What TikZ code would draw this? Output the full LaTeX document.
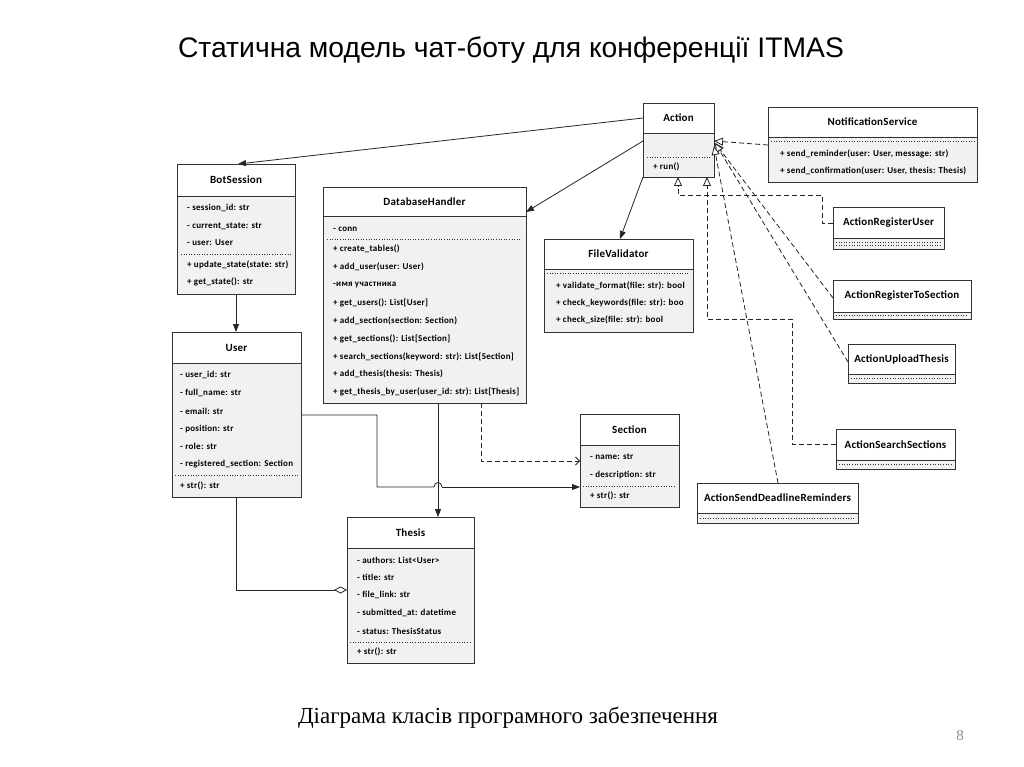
\documentclass[tikz,border=0pt]{standalone}
\usepackage{fontspec}
\usetikzlibrary{arrows.meta,calc}
\newfontfamily\umlfont[LetterSpace=3]{Carlito}
\newfontfamily\hdrfont[LetterSpace=2]{Carlito}
\newfontfamily\titlefont{Liberation Sans}
\newfontfamily\capfont{Liberation Serif}
\definecolor{bodyfill}{HTML}{F1F1F1}
\definecolor{edge}{HTML}{333333}
\tikzset{
  classbox/.style={draw=edge,line width=0.9pt,fill=bodyfill,rectangle,inner sep=0pt,outer sep=0pt},
  hdrbox/.style={draw=edge,line width=0.9pt,fill=white,rectangle,inner sep=0pt,outer sep=0pt,
    font=\hdrfont\bfseries\fontsize{11}{13}\selectfont},
  mem/.style={anchor=west,inner sep=0pt,font=\umlfont\bfseries\fontsize{9}{10}\selectfont},
  sepline/.style={draw=edge,line width=0.6pt,dotted},
  conn/.style={draw=black!85,line width=0.8pt},
  assoc/.style={conn,-{Triangle[length=8pt,width=6pt]}},
  real/.style={conn,dashed,dash pattern=on 5pt off 3pt,-{Triangle[open,length=9pt,width=8pt,fill=white]}},
  dep/.style={conn,dashed,dash pattern=on 5pt off 3pt,-{Straight Barb[length=4pt,width=8pt]}},
  aggr/.style={conn,-{Diamond[open,length=13pt,width=7pt,fill=white]}},
}
\newcommand\umlclass[7]{%
  \node[classbox,minimum width=#4pt,minimum height=#5pt,anchor=north west] (#1) at (#2,#3) {};
  \node[hdrbox,minimum width=#4pt,minimum height=#6pt,anchor=north west] (#1-h) at (#2,#3) {#7};
}
\begin{document}
\begin{tikzpicture}[x=1pt,y=-1pt]
\useasboundingbox (0,0) rectangle (1024,767);
\fill[white] (0,0) rectangle (1024,767);

% title and caption
\node[inner sep=0pt,font=\titlefont\fontsize{28.3}{32}\selectfont] (title) at (511,50) {Статична модель чат-боту для конференції ITMAS};
\node[inner sep=0pt,font=\capfont\fontsize{23}{27}\selectfont] (caption) at (508,718) {Діаграма класів програмного забезпечення};
\node[inner sep=0pt,font=\capfont\fontsize{15}{18}\selectfont,text=black!45] (pagenum) at (960,736) {8};

% Action
\umlclass{action}{643}{103}{71}{74}{30}{Action}
\draw[sepline] (647,157) -- (710,157);
\node[mem] (action-m1) at (653,167) {+ run()};

% NotificationService
\umlclass{ns}{768}{107}{209}{75}{30}{NotificationService}
\draw[sepline] (771,141) -- (974,141);
\node[mem] (ns-m1) at (780,154) {+ send\_reminder(user: User, message: str)};
\node[mem] (ns-m2) at (780,171) {+ send\_confirmation(user: User, thesis: Thesis)};

% BotSession
\umlclass{bot}{177}{164}{118}{130}{32}{BotSession}
\node[mem] (bot-m1) at (187,208) {- session\_id: str};
\node[mem] (bot-m2) at (187,226) {- current\_state: str};
\node[mem] (bot-m3) at (187,243) {- user: User};
\draw[sepline] (181,254) -- (291,254);
\node[mem] (bot-m4) at (187,265) {+ update\_state(state: str)};
\node[mem] (bot-m5) at (187,282) {+ get\_state(): str};

% DatabaseHandler
\umlclass{db}{323}{187}{203}{216}{29}{DatabaseHandler}
\node[mem] (db-m1) at (333,229) {- conn};
\draw[sepline] (327,239) -- (522,239);
\node[mem] (db-m2) at (333,249) {+ create\_tables()};
\node[mem] (db-m3) at (333,267) {+ add\_user(user: User)};
\node[mem] (db-m4) at (333,285) {-имя участника};
\node[mem] (db-m5) at (333,303) {+ get\_users(): List[User]};
\node[mem] (db-m6) at (333,321) {+ add\_section(section: Section)};
\node[mem] (db-m7) at (333,339) {+ get\_sections(): List[Section]};
\node[mem] (db-m8) at (333,357) {+ search\_sections(keyword: str): List[Section]};
\node[mem] (db-m9) at (333,374) {+ add\_thesis(thesis: Thesis)};
\node[mem] (db-m10) at (333,392) {+ get\_thesis\_by\_user(user\_id: str): List[Thesis]};

% FileValidator
\umlclass{fv}{544}{239}{149}{93}{30}{FileValidator}
\draw[sepline] (547,273) -- (690,273);
\node[mem] (fv-m1) at (556,286) {+ validate\_format(file: str): bool};
\node[mem] (fv-m2) at (556,303) {+ check\_keywords(file: str): boo};
\node[mem] (fv-m3) at (556,320) {+ check\_size(file: str): bool};

% User
\umlclass{user}{172}{332}{129}{165}{31}{User}
\node[mem] (user-m1) at (180,375) {- user\_id: str};
\node[mem] (user-m2) at (180,393) {- full\_name: str};
\node[mem] (user-m3) at (180,411) {- email: str};
\node[mem] (user-m4) at (180,429) {- position: str};
\node[mem] (user-m5) at (180,446) {- role: str};
\node[mem] (user-m6) at (180,464) {- registered\_section: Section};
\draw[sepline] (175,475) -- (298,475);
\node[mem] (user-m7) at (180,486) {+ str(): str};

% Section
\umlclass{sec}{580}{414}{99}{93}{31}{Section}
\node[mem] (sec-m1) at (590,457) {- name: str};
\node[mem] (sec-m2) at (590,475) {- description: str};
\draw[sepline] (583,486) -- (676,486);
\node[mem] (sec-m3) at (590,496) {+ str(): str};

% Thesis
\umlclass{thesis}{347}{517}{127}{146}{31}{Thesis}
\node[mem] (th-m1) at (357,560) {- authors: List<User>};
\node[mem] (th-m2) at (357,577) {- title: str};
\node[mem] (th-m3) at (357,595) {- file\_link: str};
\node[mem] (th-m4) at (357,613) {- submitted\_at: datetime};
\node[mem] (th-m5) at (357,631) {- status: ThesisStatus};
\draw[sepline] (350,642) -- (471,642);
\node[mem] (th-m6) at (357,652) {+ str(): str};

% Action subclasses
\umlclass{aru}{833}{207}{111}{42}{31}{ActionRegisterUser}
\draw[sepline] (836,242) -- (941,242);
\draw[sepline] (836,245) -- (941,245);
\umlclass{arts}{833}{280}{138}{39}{32}{ActionRegisterToSection}
\draw[sepline] (836,315.5) -- (968,315.5);
\umlclass{aut}{848}{344}{107}{39}{30}{ActionUploadThesis}
\draw[sepline] (851,378.5) -- (952,378.5);
\umlclass{ass}{836}{429}{119}{40}{31}{ActionSearchSections}
\draw[sepline] (839,464.5) -- (952,464.5);
\umlclass{asdr}{697}{483}{161}{40}{30}{ActionSendDeadlineReminders}
\draw[sepline] (700,518) -- (855,518);

% connectors
\coordinate (hub) at ($(action.north east)+(1,40)$);
\draw[assoc] ($(action.north west)+(0,15)$) -- ($(bot.north west)+(61,0)$);
\draw[assoc] ($(action.north west)+(0,38)$) -- ($(db.north east)+(0,25)$);
\draw[assoc] (action.south west) -- ($(fv.north west)+(76,0)$);
\draw[real] ($(ns.north west)+(0,38)$) -- ($(action.north east)+(0,38)$);
\draw[real] ($(aru.north west)+(0,16)$) -- ++(-11,0) -- ++(0,-28) -| ($(action.south west)+(35,0)$);
\draw[real] ($(ass.north west)+(0,15)$) -- ++(-44,0) -- ++(0,-125) -| ($(action.south west)+(64,0)$);
\draw[real] ($(arts.north west)+(0,18)$) -- (hub);
\draw[real] ($(aut.north west)+(0,18)$) -- (hub);
\draw[real] ($(asdr.north west)+(81,0)$) -- ($(action.north east)+(0,43)$);

\draw[assoc] (bot.south) -- (bot.south |- user.north);
\draw[assoc] ($(db.south west)+(115,0)$) -- ($(thesis.north west)+(91,0)$);
\draw[dep] ($(db.south west)+(158,0)$) |- ($(sec.north west)+(0,47)$);
\draw[conn] ($(user.north east)+(0,83)$) -- (377,415) -- (377,487) -- (434,487)
   .. controls (434,481) and (442,481) .. (442,487);
\coordinate (hopend) at (442,487);
\draw[assoc] (hopend) -- ($(sec.north west)+(0,73)$);
\draw[aggr] (user.south) |- ($(thesis.north west)+(0,73)$);
\end{tikzpicture}
\end{document}
